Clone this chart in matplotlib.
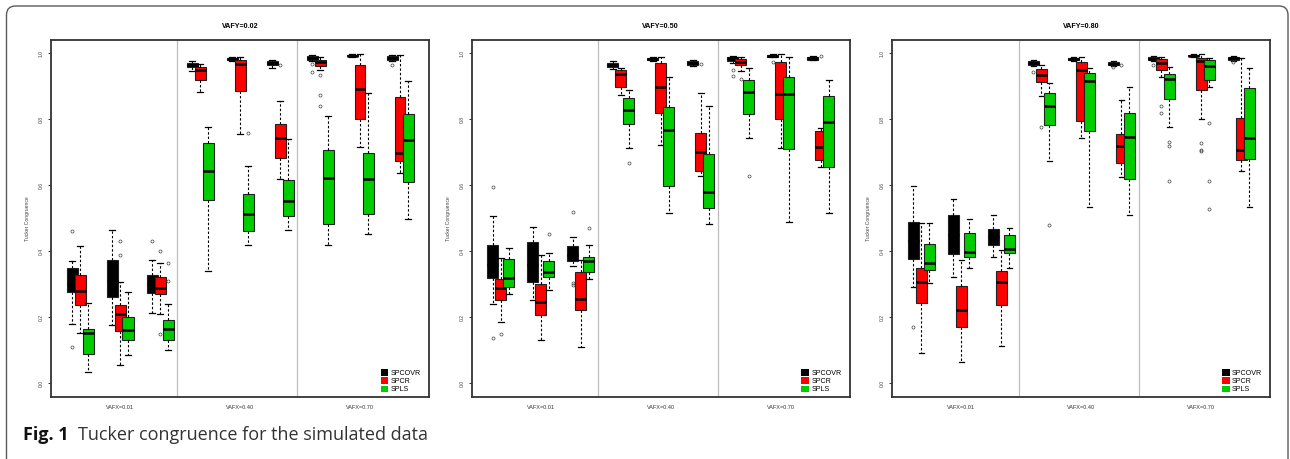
import numpy as np
import matplotlib.pyplot as plt
from matplotlib.patches import Patch, FancyBboxPatch

plt.rcParams['font.family'] = ['Liberation Sans', 'DejaVu Sans']

panel_titles = ["VAFY=0.02", "VAFY=0.50", "VAFY=0.80"]
vafx_labels = ["VAFX=0.01", "VAFX=0.40", "VAFX=0.70"]
methods = ["SPCOVR", "SPCR", "SPLS"]
method_colors = ["#000000", "#FF0000", "#00CD00"]

# one row per cell (3 VAFX levels x 3 sparsity levels):
# lower whisker, Q1, median, Q3, upper whisker
spcovr_02 = [(0.180, 0.277, 0.300, 0.351, 0.372), (0.178, 0.262, 0.310, 0.375, 0.466),
             (0.213, 0.274, 0.300, 0.329, 0.375), (0.945, 0.957, 0.963, 0.970, 0.977),
             (0.975, 0.978, 0.983, 0.987, 0.990), (0.955, 0.963, 0.969, 0.975, 0.978),
             (0.975, 0.979, 0.985, 0.991, 0.994), (0.989, 0.991, 0.993, 0.996, 0.998),
             (0.976, 0.979, 0.985, 0.991, 0.994)]
spcr_02 = [(0.154, 0.239, 0.280, 0.329, 0.415), (0.055, 0.160, 0.210, 0.237, 0.306),
           (0.209, 0.272, 0.288, 0.321, 0.365), (0.884, 0.920, 0.950, 0.958, 0.966),
           (0.754, 0.885, 0.967, 0.980, 0.990), (0.619, 0.684, 0.743, 0.785, 0.854),
           (0.950, 0.961, 0.973, 0.980, 0.988), (0.715, 0.801, 0.893, 0.964, 0.999),
           (0.638, 0.674, 0.699, 0.866, 0.995)]
spls_02 = [(0.035, 0.090, 0.152, 0.165, 0.245), (0.085, 0.133, 0.163, 0.202, 0.276),
           (0.100, 0.131, 0.165, 0.191, 0.240), (0.340, 0.556, 0.642, 0.729, 0.778),
           (0.420, 0.461, 0.512, 0.574, 0.659), (0.464, 0.508, 0.554, 0.616, 0.739),
           (0.420, 0.482, 0.621, 0.708, 0.809), (0.454, 0.513, 0.618, 0.698, 0.879),
           (0.497, 0.611, 0.736, 0.815, 0.917)]
spcovr_02_out = [[0.463, 0.111], [], [0.432], [], [], [], [0.966, 0.944], [], [0.965]]
spcr_02_out = [[], [0.430, 0.390], [0.400, 0.151], [], [], [0.965], [0.934, 0.874, 0.840], [], []]
spls_02_out = [[], [], [0.309, 0.366], [], [0.759], [], [], [], []]

spcovr_50 = [(0.241, 0.319, 0.360, 0.418, 0.508), (0.252, 0.307, 0.360, 0.427, 0.474),
             (0.356, 0.371, 0.390, 0.417, 0.445), (0.951, 0.957, 0.963, 0.970, 0.977),
             (0.976, 0.979, 0.983, 0.987, 0.990), (0.960, 0.965, 0.970, 0.975, 0.978),
             (0.970, 0.977, 0.984, 0.990, 0.993), (0.988, 0.990, 0.993, 0.995, 0.998),
             (0.978, 0.980, 0.985, 0.990, 0.992)]
spcr_50 = [(0.185, 0.252, 0.289, 0.316, 0.380), (0.131, 0.208, 0.247, 0.302, 0.390),
           (0.110, 0.221, 0.257, 0.339, 0.375), (0.874, 0.899, 0.937, 0.949, 0.956),
           (0.723, 0.818, 0.898, 0.970, 0.990), (0.628, 0.644, 0.702, 0.758, 0.879),
           (0.945, 0.965, 0.974, 0.982, 0.988), (0.714, 0.801, 0.875, 0.974, 0.999),
           (0.655, 0.676, 0.717, 0.763, 0.773)]
spls_50 = [(0.270, 0.292, 0.320, 0.378, 0.409), (0.284, 0.321, 0.339, 0.372, 0.395),
           (0.315, 0.339, 0.370, 0.382, 0.420), (0.714, 0.786, 0.827, 0.864, 0.888),
           (0.515, 0.598, 0.769, 0.838, 0.928), (0.484, 0.532, 0.579, 0.696, 0.839),
           (0.744, 0.816, 0.884, 0.918, 0.954), (0.490, 0.709, 0.875, 0.927, 0.990),
           (0.515, 0.655, 0.791, 0.870, 0.918)]
spcovr_50_out = [[0.596, 0.138], [], [0.520, 0.305, 0.299], [], [], [], [0.950, 0.932], [0.972], []]
spcr_50_out = [[0.150], [], [], [], [], [0.966], [0.922], [], [0.993]]
spls_50_out = [[], [0.452], [0.470], [0.669], [], [], [0.629], [], []]

spcovr_80 = [(0.293, 0.377, 0.430, 0.488, 0.598), (0.322, 0.392, 0.450, 0.509, 0.559),
             (0.384, 0.420, 0.445, 0.469, 0.509), (0.961, 0.965, 0.970, 0.976, 0.979),
             (0.975, 0.978, 0.982, 0.985, 0.988), (0.960, 0.963, 0.968, 0.974, 0.977),
             (0.975, 0.978, 0.983, 0.988, 0.991), (0.989, 0.991, 0.993, 0.995, 0.998),
             (0.977, 0.980, 0.985, 0.990, 0.992)]
spcr_80 = [(0.091, 0.245, 0.307, 0.349, 0.485), (0.065, 0.172, 0.223, 0.295, 0.375),
           (0.115, 0.237, 0.306, 0.342, 0.405), (0.869, 0.912, 0.934, 0.953, 0.963),
           (0.744, 0.794, 0.950, 0.973, 0.990), (0.624, 0.669, 0.719, 0.756, 0.859),
           (0.928, 0.950, 0.971, 0.982, 0.988), (0.800, 0.888, 0.977, 0.987, 0.999),
           (0.644, 0.676, 0.706, 0.804, 0.987)]
spls_80 = [(0.305, 0.344, 0.365, 0.422, 0.485), (0.349, 0.384, 0.397, 0.455, 0.498),
           (0.349, 0.395, 0.408, 0.450, 0.470), (0.674, 0.782, 0.839, 0.881, 0.909),
           (0.535, 0.764, 0.915, 0.940, 0.954), (0.510, 0.619, 0.746, 0.819, 0.899),
           (0.778, 0.860, 0.921, 0.938, 0.958), (0.899, 0.919, 0.961, 0.978, 0.985),
           (0.535, 0.679, 0.742, 0.894, 0.954)]
spcovr_80_out = [[0.171], [], [], [0.943], [], [0.957], [0.965], [], [0.974]]
spcr_80_out = [[], [], [], [0.778], [], [0.965], [0.839, 0.819], [0.729, 0.706, 0.704], []]
spls_80_out = [[], [], [], [0.479], [], [], [0.730, 0.719, 0.614], [0.789, 0.613, 0.529], []]

panels = [
    ([spcovr_02, spcr_02, spls_02], [spcovr_02_out, spcr_02_out, spls_02_out]),
    ([spcovr_50, spcr_50, spls_50], [spcovr_50_out, spcr_50_out, spls_50_out]),
    ([spcovr_80, spcr_80, spls_80], [spcovr_80_out, spcr_80_out, spls_80_out]),
]


def to_stats(rows, outs):
    return [dict(whislo=r[0], q1=r[1], med=r[2], q3=r[3], whishi=r[4], fliers=o)
            for r, o in zip(rows, outs)]


W, H = 1290, 459
fig = plt.figure(figsize=(W / 100, H / 100), dpi=100)

# rounded frame around the figure (bottom runs off the image)
frame = FancyBboxPatch((0.065, -0.2), 12.815, 4.73,
                       boxstyle="round,pad=0,rounding_size=0.09",
                       transform=fig.dpi_scale_trans, facecolor='none',
                       edgecolor='#5a5a5a', linewidth=1.0)
fig.patches.append(frame)

lefts = [51, 471.7, 892.3]
base = np.arange(1, 10)
for p, left in enumerate(lefts):
    ax = fig.add_axes([left / W, 1 - 396.7 / H, 378 / W, 356.7 / H])
    rows, outs = panels[p]
    for m in range(3):
        ax.bxp(to_stats(rows[m], outs[m]), positions=base + 0.2 * m, widths=0.275,
               capwidths=0.14, patch_artist=True, zorder=2 + m, manage_ticks=False,
               boxprops=dict(facecolor=method_colors[m], edgecolor='#222222', linewidth=0.8),
               medianprops=dict(color='black', linewidth=1.8, solid_capstyle='butt'),
               whiskerprops=dict(color='black', linewidth=0.8, linestyle=(0, (2.2, 1.8))),
               capprops=dict(color='black', linewidth=0.9),
               flierprops=dict(marker='o', markersize=2.2, markerfacecolor='none',
                               markeredgecolor='#444444', markeredgewidth=0.5))
    for xs in [3.63, 6.63]:
        ax.axvline(xs, color='#bdbdbd', linewidth=0.9, zorder=1)
    ax.set_xlim(0.475, 9.925)
    ax.set_ylim(-0.04, 1.04)
    ax.set_yticks([0.0, 0.2, 0.4, 0.6, 0.8, 1.0])
    ax.set_yticklabels(["0.0", "0.2", "0.4", "0.6", "0.8", "1.0"], rotation=90, va='center')
    ax.set_xticks([2.2, 5.2, 8.2])
    ax.set_xticklabels(vafx_labels)
    ax.tick_params(axis='y', length=2.2, width=0.7, pad=3, labelsize=3.6,
                   colors='#333333', labelcolor='#444444')
    ax.tick_params(axis='x', length=0, pad=6, labelsize=4.0, labelcolor='#333333')
    for s in ax.spines.values():
        s.set_linewidth(1.3)
        s.set_color('#333333')
    ax.set_ylabel("Tucker Congruence", fontsize=3.6, color='#444444')
    ax.yaxis.set_label_coords(-0.056, 0.5)
    ax.text(0.5, 1 + 13.5 / 356.7, panel_titles[p], transform=ax.transAxes,
            ha='center', va='center', fontsize=5.1, fontweight='bold')
    handles = [Patch(facecolor=c, edgecolor='none') for c in method_colors]
    ax.legend(handles, methods, loc='lower left', bbox_to_anchor=(0.868, 0.005),
              frameon=False, fontsize=5.1, handlelength=1.1, handleheight=1.1,
              labelspacing=0.08, handletextpad=0.35, borderpad=0.2, borderaxespad=0)

fig.text(23 / W, 1 - 440 / H, "Fig. 1", fontsize=13, fontweight='bold',
         family=['Open Sans', 'DejaVu Sans'], color='#111111', va='baseline')
fig.text(77.5 / W, 1 - 440 / H, "Tucker congruence for the simulated data", fontsize=13,
         family=['Open Sans', 'DejaVu Sans'], color='#333333', va='baseline')

fig.savefig("out.png", dpi=100)
